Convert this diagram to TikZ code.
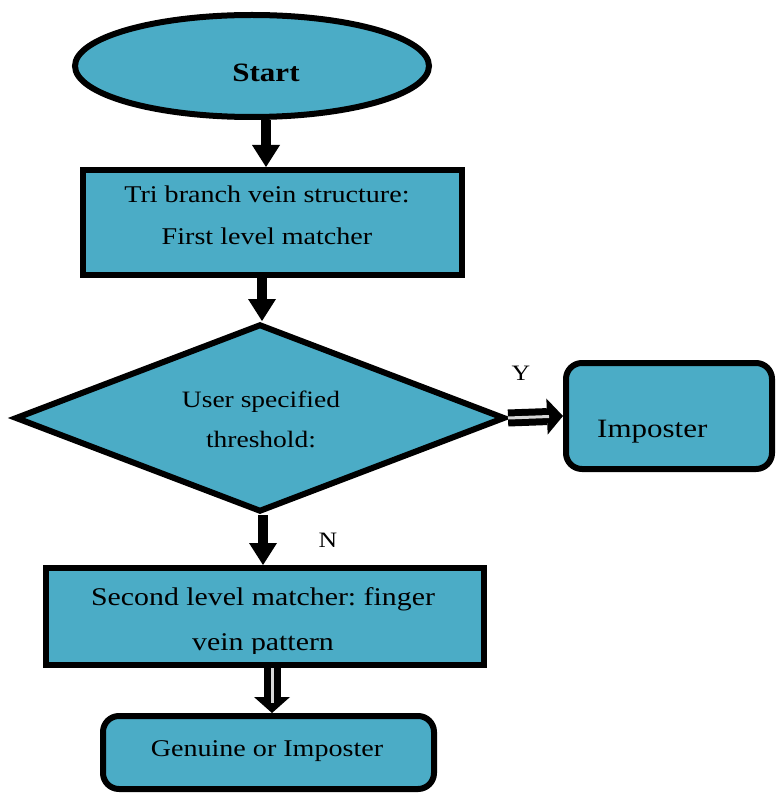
\documentclass[tikz,border=0pt]{standalone}
\usepackage{fontspec}
\setmainfont{Liberation Serif}[FakeStretch=1.17]
\frenchspacing
\usetikzlibrary{shapes.geometric,arrows.meta,calc}
\definecolor{boxblue}{RGB}{75,172,198}
\definecolor{gapgrey}{RGB}{215,215,215}
\tikzset{
  outline/.style={draw=black, fill=boxblue, line width=6pt, inner sep=0pt},
  procbox/.style={outline, rectangle},
  endbox/.style={outline, rectangle, rounded corners=16pt},
  txt/.style={inner sep=0pt, anchor=base, font=\fontsize{24}{28}\selectfont},
  flow/.style={line width=10pt, -{Triangle[width=28pt,length=22pt,line width=0pt]}},
  wideflow/.style={line width=17pt, -{Triangle[width=36pt,length=16pt,line width=0pt]}},
  gapline/.style={draw=gapgrey, line width=3pt},
}
\begin{document}
\begin{tikzpicture}[x=1pt,y=-1pt]
\useasboundingbox (0,0) rectangle (776,794);

% shapes
\node[outline, ellipse, minimum width=354pt, minimum height=102pt] (start) at (252,66) {};
\node[procbox, minimum width=379pt, minimum height=105pt] (box1) at (272.5,222.5) {};
\node[outline, diamond, minimum width=490pt, minimum height=188pt] (dia) at (260,418) {};
\node[endbox, minimum width=206pt, minimum height=106pt] (imp) at (669,416) {};
\node[procbox, minimum width=438pt, minimum height=97pt] (box2) at (265,616.5) {};
\node[endbox, minimum width=331pt, minimum height=73pt] (gen) at (268.5,752.5) {};

% texts
\node[txt, font=\fontsize{26.5}{28}\bfseries\selectfont] (tstart) at (266,82) {Start};
\node[txt] (t1a) at (267,203) {Tri branch vein structure:};
\node[txt] (t1b) at (267,244) {First level matcher};
\node[txt, font=\fontsize{23.5}{28}\selectfont] (tda) at (261,407) {User specified};
\node[txt, font=\fontsize{23.5}{28}\selectfont] (tdb) at (261,447) {threshold:};
\node[txt, anchor=base west, font=\fontsize{26.5}{28}\selectfont] (timp) at (597,437) {Imposter};
\node[txt, font=\fontsize{25.5}{28}\selectfont] (t2a) at (263,605) {Second level matcher: finger};
\begin{scope}
  \clip (box2.north west) rectangle (484,653);
  \node[txt, font=\fontsize{25.5}{28}\selectfont] (t2b) at (263,650) {vein pattern};
\end{scope}
\node[txt, font=\fontsize{24}{28}\selectfont] (tgen) at (267,756) {Genuine or Imposter};
\node[txt, font=\fontsize{22}{26}\selectfont, anchor=center] (ylab) at (521,373) {Y};
\node[txt, font=\fontsize{22}{26}\selectfont, anchor=center] (nlab) at (328,540) {N};

% connectors
\coordinate (c1) at (266,0);
\coordinate (c2) at (262,0);
\coordinate (c3) at (263,0);
\coordinate (c4) at (272,0);
\draw[flow] (start.south -| c1) -- (box1.north -| c1);
\draw[flow] (box1.south -| c2) -- (dia.north -| c2);
\draw[flow] (dia.south -| c3) -- (box2.north -| c3);
\draw[wideflow] (dia.east) -- (imp.west);
\draw[gapline, shorten >=14pt] (dia.east) -- (imp.west);
\draw[wideflow] (box2.south -| c4) -- (gen.north -| c4);
\draw[gapline, shorten >=10pt] (box2.south -| c4) -- (gen.north -| c4);
\end{tikzpicture}
\end{document}
